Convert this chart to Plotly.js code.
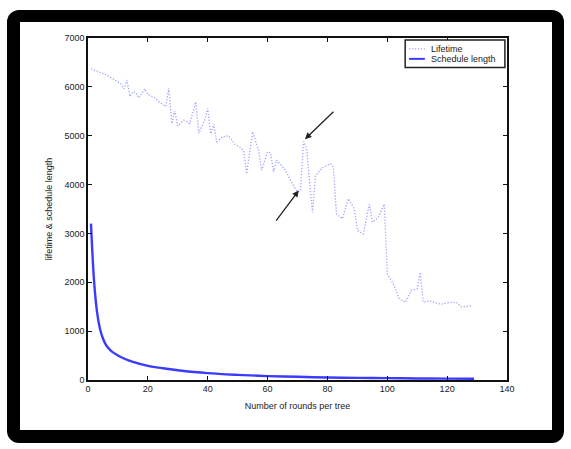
<!DOCTYPE html>
<html>
<head>
<meta charset="utf-8">
<script src="https://cdn.plot.ly/plotly-3.0.1.min.js"></script>
<style>
  html, body { margin: 0; padding: 0; background: #ffffff; }
  #frame { position: absolute; left: 7px; top: 10px; width: 557px; height: 433px; background: #000; border-radius: 12px; }
  #inner { position: absolute; left: 20px; top: 22px; width: 532px; height: 408px; background: #fff; }
  #chart { position: absolute; left: 0; top: 0; width: 571px; height: 449px; }
</style>
</head>
<body>
<div id="frame"></div>
<div id="inner"></div>
<div id="chart"></div>
<script>
// Lifetime (dotted)
const lifetimeX = [1,3,6,8,10,11,12,13,14,15,16,17,19,20,22,24,26,27,28,29,30,32,34,35,36,37,38,39,40,41,42,43,45,47,49,50,52,53,55,57,58,60,61,62,63,66,68,70,71,72,73,75,76,78,81,82,83,85,87,89,90,92,94,95,97,99,100,102,104,106,108,110,111,112,114,116,118,121,123,125,128];
const lifetimeY = [6370,6320,6250,6180,6100,6060,5960,6140,5800,5900,5880,5770,5960,5840,5790,5680,5600,5970,5250,5510,5200,5320,5250,5450,5690,5050,5180,5320,5560,5040,5240,4880,4980,5000,4830,4800,4700,4220,5080,4700,4290,4670,4650,4260,4500,4290,4050,3850,3880,4880,4750,3430,4180,4330,4430,4360,3400,3300,3710,3500,3060,2990,3600,3230,3330,3600,2170,1970,1660,1590,1830,1870,2200,1590,1620,1590,1550,1590,1590,1490,1520];
// Schedule length (solid)
const scheduleX = [1,2,3,4,5,6,7,8,10,12,15,20,25,30,40,50,60,70,80,90,100,110,120,129];
const scheduleY = [3200,2050,1400,1050,850,720,640,580,500,440,370,290,240,200,140,105,80,65,52,44,38,32,28,25];
// Axis ticks
const xTicks = [0,20,40,60,80,100,120,140];
const yTicks = [0,1000,2000,3000,4000,5000,6000,7000];
// Legend labels
const legendNames = ['Lifetime', 'Schedule length'];
// Arrows: [headX, headY, tailX, tailY]
const arrowUpper = [72.5, 4930, 82.5, 5520];
const arrowLower = [70.4, 3880, 62.5, 3230];

const lifeColor = '#a4a4ff';
const schedColor = '#3b3bff';
const FONT = 'Liberation Sans, Arial, sans-serif';

const traces = [
  { x: lifetimeX, y: lifetimeY, type: 'scatter', mode: 'lines', name: legendNames[0],
    line: { color: lifeColor, width: 1.3, dash: '1.3px,1.7px' } },
  { x: scheduleX, y: scheduleY, type: 'scatter', mode: 'lines', name: legendNames[1],
    line: { color: schedColor, width: 2.4, shape: 'spline', smoothing: 1 } }
];

function arrow(a) {
  return { x: a[0], y: a[1], ax: a[2], ay: a[3], xref: 'x', yref: 'y', axref: 'x', ayref: 'y',
    text: '', showarrow: true, arrowhead: 2, arrowsize: 1, arrowwidth: 1.3, arrowcolor: '#222' };
}

const axisCommon = {
  showgrid: false, zeroline: false, showline: true, linecolor: '#111', linewidth: 1.6,
  mirror: 'ticks', ticks: 'inside', ticklen: 4, tickcolor: '#111', tickwidth: 1,
  tickfont: { family: FONT, size: 9, color: '#222' }
};

// compact legend box (MATLAB style)
const legendShapes = [
  { type: 'rect', xref: 'paper', yref: 'paper', x0: 0.757, x1: 0.995, y0: 0.914, y1: 0.994,
    line: { color: '#222', width: 1.5 }, fillcolor: '#ffffff', layer: 'above' },
  { type: 'line', xref: 'paper', yref: 'paper', x0: 0.766, x1: 0.804, y0: 0.968, y1: 0.968,
    line: { color: lifeColor, width: 1.3, dash: '1.3px,1.7px' }, layer: 'above' },
  { type: 'line', xref: 'paper', yref: 'paper', x0: 0.766, x1: 0.804, y0: 0.939, y1: 0.939,
    line: { color: schedColor, width: 2 }, layer: 'above' }
];
const legendTexts = legendNames.map((n, i) => ({
  xref: 'paper', yref: 'paper', x: 0.813, y: i === 0 ? 0.968 : 0.939, xanchor: 'left', yanchor: 'middle',
  text: n, showarrow: false, font: { family: FONT, size: 9, color: '#222' }
}));

const layout = {
  width: 571, height: 449,
  paper_bgcolor: 'rgba(0,0,0,0)', plot_bgcolor: '#ffffff',
  margin: { l: 88, r: 64, t: 38, b: 69 },
  showlegend: false,
  xaxis: Object.assign({}, axisCommon, {
    range: [0, 140], tickvals: xTicks, ticktext: xTicks.map(String),
    title: { text: 'Number of rounds per tree', standoff: 9,
      font: { family: FONT, size: 9, color: '#222' } }
  }),
  yaxis: Object.assign({}, axisCommon, {
    range: [0, 7000], tickvals: yTicks, ticktext: yTicks.map(String),
    title: { text: 'lifetime & schedule length', standoff: 10,
      font: { family: FONT, size: 9, color: '#222' } }
  }),
  shapes: legendShapes,
  annotations: [arrow(arrowUpper), arrow(arrowLower)].concat(legendTexts)
};

Plotly.newPlot('chart', traces, layout, { displayModeBar: false, staticPlot: true });
</script>
</body>
</html>
